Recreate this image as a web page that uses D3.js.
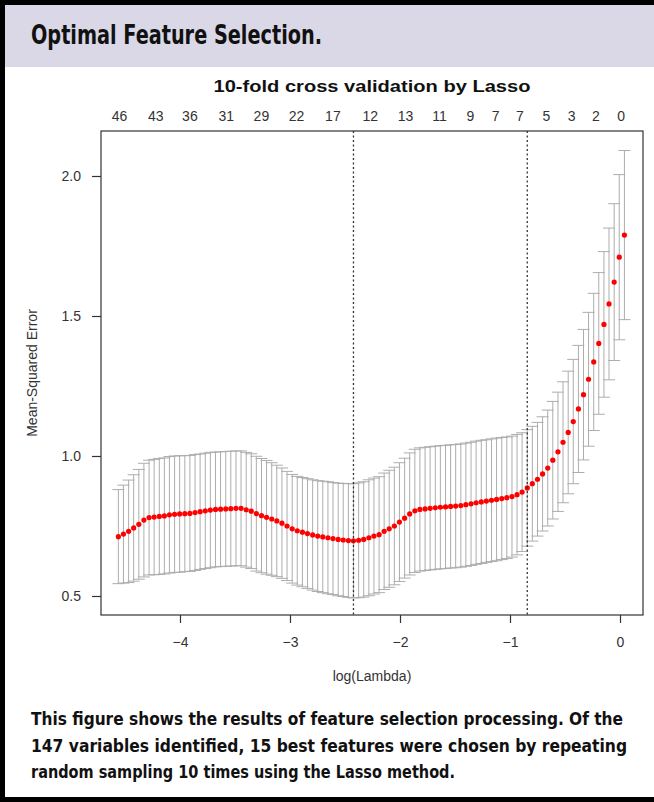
<!DOCTYPE html>
<html>
<head>
<meta charset="utf-8">
<script src="https://cdn.jsdelivr.net/npm/d3@7/dist/d3.min.js"></script>
<style>
  body { margin: 0; background: #fff; }
  svg { display: block; }
</style>
</head>
<body>
<div id="chart"></div>
<script>
// log(lambda) path of the lasso fit, left to right
var logLambda = [
  -4.560, -4.514, -4.467, -4.421, -4.374, -4.328, -4.281, -4.235, -4.188, -4.142,
  -4.096, -4.049, -4.003, -3.956, -3.910, -3.863, -3.817, -3.770, -3.724, -3.677,
  -3.631, -3.584, -3.538, -3.491, -3.445, -3.398, -3.352, -3.306, -3.259, -3.213,
  -3.166, -3.120, -3.073, -3.027, -2.980, -2.934, -2.887, -2.841, -2.794, -2.748,
  -2.702, -2.655, -2.609, -2.562, -2.516, -2.469, -2.423, -2.376, -2.330, -2.283,
  -2.237, -2.190, -2.144, -2.098, -2.051, -2.005, -1.958, -1.912, -1.865, -1.819,
  -1.772, -1.726, -1.679, -1.633, -1.586, -1.540, -1.494, -1.447, -1.401, -1.354,
  -1.308, -1.261, -1.215, -1.168, -1.122, -1.075, -1.029, -0.982, -0.936, -0.890,
  -0.843, -0.797, -0.750, -0.704, -0.657, -0.611, -0.564, -0.518, -0.471, -0.425,
  -0.378, -0.332, -0.286, -0.239, -0.193, -0.146, -0.100, -0.053, -0.007, 0.040
];

// cross-validated mean squared error
var mse = [
  0.712, 0.721, 0.731, 0.743, 0.756, 0.771, 0.780, 0.782, 0.784, 0.786,
  0.790, 0.792, 0.793, 0.794, 0.795, 0.798, 0.801, 0.804, 0.807, 0.809,
  0.810, 0.811, 0.812, 0.813, 0.813, 0.808, 0.803, 0.794, 0.787, 0.781,
  0.775, 0.768, 0.760, 0.750, 0.740, 0.733, 0.728, 0.723, 0.718, 0.714,
  0.711, 0.708, 0.705, 0.702, 0.700, 0.698, 0.697, 0.699, 0.702, 0.708,
  0.714, 0.719, 0.731, 0.740, 0.750, 0.764, 0.778, 0.793, 0.804, 0.809,
  0.811, 0.813, 0.815, 0.817, 0.818, 0.820, 0.821, 0.823, 0.826, 0.829,
  0.833, 0.836, 0.839, 0.842, 0.845, 0.848, 0.851, 0.855, 0.862, 0.871,
  0.886, 0.901, 0.917, 0.936, 0.957, 0.985, 1.015, 1.049, 1.084, 1.123,
  1.168, 1.219, 1.274, 1.336, 1.402, 1.470, 1.543, 1.621, 1.710, 1.789
];

// standard error of the cv estimate
var mseSd = [
  0.168, 0.175, 0.183, 0.190, 0.196, 0.203, 0.205, 0.206, 0.207, 0.207,
  0.208, 0.208, 0.208, 0.207, 0.207, 0.207, 0.206, 0.206, 0.206, 0.205,
  0.205, 0.205, 0.205, 0.205, 0.205, 0.205, 0.205, 0.205, 0.204, 0.203,
  0.201, 0.199, 0.197, 0.195, 0.194, 0.194, 0.195, 0.196, 0.197, 0.198,
  0.199, 0.200, 0.200, 0.201, 0.202, 0.203, 0.204, 0.205, 0.206, 0.207,
  0.207, 0.207, 0.208, 0.209, 0.210, 0.212, 0.214, 0.218, 0.220, 0.220,
  0.220, 0.220, 0.220, 0.220, 0.220, 0.220, 0.220, 0.220, 0.220, 0.220,
  0.220, 0.220, 0.219, 0.219, 0.219, 0.218, 0.217, 0.216, 0.215, 0.212,
  0.208, 0.205, 0.203, 0.204, 0.207, 0.210, 0.213, 0.216, 0.219, 0.222,
  0.227, 0.233, 0.239, 0.245, 0.253, 0.260, 0.271, 0.280, 0.295, 0.302
];

// number of non-zero coefficients along the top
var nzeroAt = [-4.55, -4.22, -3.91, -3.58, -3.26, -2.94, -2.61, -2.27, -1.95, -1.64, -1.36, -1.13, -0.91, -0.67, -0.44, -0.22, 0.01];
var nzeroLabels = ["46", "43", "36", "31", "29", "22", "17", "12", "13", "11", "9", "7", "7", "5", "3", "2", "0"];

var xTicks = [-4, -3, -2, -1, 0];
var yTicks = [0.5, 1.0, 1.5, 2.0];
var lambdaMin = -2.423;
var lambda1se = -0.843;

var headerTitle = "Optimal Feature Selection.";
var chartTitle = "10-fold cross validation by Lasso";
var captionLines = [
  "This figure shows the results of feature selection processing. Of the",
  "147 variables identified, 15 best features were chosen by repeating",
  "random sampling 10 times using the Lasso method."
];

var width = 654, height = 802;
var box = {left: 101, right: 643, top: 131, bottom: 615};
var condensed = "'Liberation Sans Narrow', 'DejaVu Sans Condensed', 'Liberation Sans', Arial, sans-serif";
var rFont = "'Liberation Sans', Arial, Helvetica, sans-serif";

var data = logLambda.map(function(d, i) {
    return {x: d, y: mse[i], lo: mse[i] - mseSd[i], hi: mse[i] + mseSd[i]};
});

var svg = d3.select("#chart").append("svg")
    .attr("width", width)
    .attr("height", height);

svg.append("rect").attr("width", width).attr("height", height).attr("fill", "#fff");

// header band + frame
svg.append("rect")
    .attr("x", 0).attr("y", 0)
    .attr("width", width).attr("height", 67)
    .attr("fill", "#dad8e7");
svg.append("rect").attr("x", 0).attr("y", 0).attr("width", width).attr("height", 5).attr("fill", "#000");
svg.append("rect").attr("x", 0).attr("y", 0).attr("width", 5).attr("height", height).attr("fill", "#000");
svg.append("rect").attr("x", 0).attr("y", height - 5).attr("width", width).attr("height", 5).attr("fill", "#000");

svg.append("text")
    .attr("x", 31).attr("y", 44)
    .attr("textLength", 291)
    .attr("lengthAdjust", "spacingAndGlyphs")
    .style("font-family", condensed)
    .style("font-weight", "bold")
    .style("font-size", "27px")
    .style("fill", "#111")
    .text(headerTitle);

// scales
var x = d3.scaleLinear().domain([-4.718, 0.209]).range([box.left, box.right]);
var y = d3.scaleLinear().domain([0.4321, 2.1607]).range([box.bottom, box.top]);

var plot = svg.append("g");

// error bars
var bars = plot.append("g")
    .attr("stroke", "#adadad")
    .attr("stroke-width", 1)
    .attr("fill", "none");

bars.selectAll("line.v")
    .data(data)
    .enter().append("line")
    .attr("class", "v")
    .attr("x1", d => x(d.x)).attr("x2", d => x(d.x))
    .attr("y1", d => y(d.lo)).attr("y2", d => y(d.hi));

bars.selectAll("line.hi")
    .data(data)
    .enter().append("line")
    .attr("class", "hi")
    .attr("x1", d => x(d.x) - 6).attr("x2", d => x(d.x) + 6)
    .attr("y1", d => y(d.hi)).attr("y2", d => y(d.hi));

bars.selectAll("line.lo")
    .data(data)
    .enter().append("line")
    .attr("class", "lo")
    .attr("x1", d => x(d.x) - 6).attr("x2", d => x(d.x) + 6)
    .attr("y1", d => y(d.lo)).attr("y2", d => y(d.lo));

// mean points
plot.append("g")
    .selectAll("circle")
    .data(data)
    .enter().append("circle")
    .attr("cx", d => x(d.x))
    .attr("cy", d => y(d.y))
    .attr("r", 2.6)
    .attr("fill", "#f00");

// lambda.min and lambda.1se
plot.selectAll("line.ref")
    .data([lambdaMin, lambda1se])
    .enter().append("line")
    .attr("class", "ref")
    .attr("x1", d => x(d)).attr("x2", d => x(d))
    .attr("y1", box.top).attr("y2", box.bottom)
    .attr("stroke", "#333")
    .attr("stroke-width", 1.3)
    .attr("stroke-dasharray", "2,2.5");

// frame
svg.append("rect")
    .attr("x", box.left).attr("y", box.top)
    .attr("width", box.right - box.left)
    .attr("height", box.bottom - box.top)
    .attr("fill", "none")
    .attr("stroke", "#333")
    .attr("stroke-width", 1.2);

// axes
var xAxis = svg.append("g")
    .attr("transform", "translate(0," + box.bottom + ")")
    .call(d3.axisBottom(x).tickValues(xTicks).tickSize(8).tickPadding(14).tickFormat(d3.format("d")));
var yAxis = svg.append("g")
    .attr("transform", "translate(" + box.left + ",0)")
    .call(d3.axisLeft(y).tickValues(yTicks).tickSize(9).tickPadding(11).tickFormat(d3.format(".1f")));

[xAxis, yAxis].forEach(function(g) {
    g.select(".domain").remove();
    g.selectAll(".tick line").attr("stroke", "#333").attr("stroke-width", 1.2);
    g.selectAll(".tick text")
        .style("font-family", rFont)
        .style("font-size", "14px")
        .attr("fill", "#333");
});

// top axis: model size
svg.append("g")
    .selectAll("text")
    .data(nzeroAt)
    .enter().append("text")
    .attr("x", d => x(d))
    .attr("y", 121)
    .attr("text-anchor", "middle")
    .style("font-family", rFont)
    .style("font-size", "14px")
    .attr("fill", "#333")
    .text((d, i) => nzeroLabels[i]);

svg.append("text")
    .attr("x", (box.left + box.right) / 2)
    .attr("y", 92)
    .attr("text-anchor", "middle")
    .attr("textLength", 317)
    .attr("lengthAdjust", "spacingAndGlyphs")
    .style("font-family", rFont)
    .style("font-weight", "bold")
    .style("font-size", "17px")
    .attr("fill", "#111")
    .text(chartTitle);

svg.append("text")
    .attr("x", (box.left + box.right) / 2)
    .attr("y", 681)
    .attr("text-anchor", "middle")
    .style("font-family", rFont)
    .style("font-size", "14px")
    .attr("fill", "#333")
    .text("log(Lambda)");

svg.append("text")
    .attr("transform", "translate(37," + (box.top + box.bottom) / 2 + ") rotate(-90)")
    .attr("text-anchor", "middle")
    .style("font-family", rFont)
    .style("font-size", "14px")
    .attr("fill", "#333")
    .text("Mean-Squared Error");

// caption
var captionWidths = [592, 596, 424];
svg.append("g")
    .selectAll("text")
    .data(captionLines)
    .enter().append("text")
    .attr("x", 31)
    .attr("y", (d, i) => 725 + i * 26.5)
    .attr("textLength", (d, i) => captionWidths[i])
    .attr("lengthAdjust", "spacingAndGlyphs")
    .style("font-family", condensed)
    .style("font-weight", "bold")
    .style("font-size", "18px")
    .attr("fill", "#111")
    .text(d => d);
</script>
</body>
</html>
